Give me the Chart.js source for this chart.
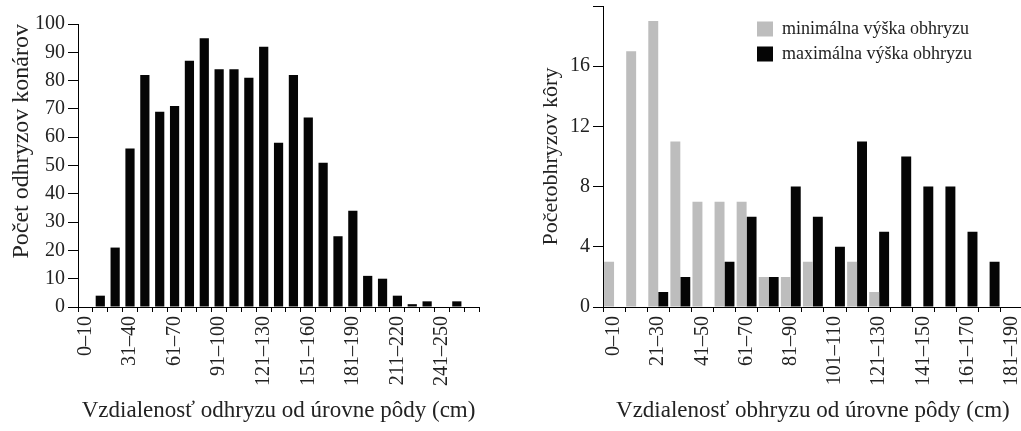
<!DOCTYPE html>
<html>
<head>
<meta charset="utf-8">
<script src="https://cdn.jsdelivr.net/npm/chart.js@4"></script>
<style>
  html, body { margin: 0; padding: 0; background: #fff; overflow: hidden; }
  body { width: 1021px; height: 431px; position: relative; }
  #left-chart { position: absolute; left: 0; top: 0; }
  #right-chart { position: absolute; left: 520px; top: 0; }
</style>
</head>
<body>
<canvas id="left-chart" width="500" height="431"></canvas>
<canvas id="right-chart" width="520" height="431"></canvas>
<script>
// left chart: branch bites by distance from ground
const leftCategories = ["0–10", "11–20", "21–30", "31–40", "41–50", "51–60", "61–70", "71–80", "81–90",
  "91–100", "101–110", "111–120", "121–130", "131–140", "141–150", "151–160", "161–170", "171–180",
  "181–190", "191–200", "201–210", "211–220", "221–230", "231–240", "241–250", "251–260", "261–270"];
const branchCounts = [0, 4, 21, 56, 82, 69, 71, 87, 95, 84, 84, 81, 92, 58, 82, 67, 51, 25, 34, 11, 10, 4, 1, 2, 0, 2, 0];

// right chart: bark bites, min and max height
const rightCategories = ["0–10", "11–20", "21–30", "31–40", "41–50", "51–60", "61–70", "71–80", "81–90",
  "91–100", "101–110", "111–120", "121–130", "131–140", "141–150", "151–160", "161–170", "171–180", "181–190"];
const minHeightCounts = [3, 17, 19, 11, 7, 7, 7, 2, 2, 3, 0, 3, 1, 0, 0, 0, 0, 0, 0];
const maxHeightCounts = [0, 0, 1, 2, 0, 3, 6, 2, 8, 6, 4, 11, 5, 10, 8, 8, 5, 3, 0];

Chart.defaults.font.family = "'Liberation Serif', 'Times New Roman', serif";
Chart.defaults.color = "#222";

const tickFont = { size: 20 };
const axisBorder = { color: "#000", width: 1 };

new Chart(document.getElementById("left-chart"), {
  type: "bar",
  data: {
    labels: leftCategories,
    datasets: [
      {
        label: "Počet odhryzov konárov",
        data: branchCounts,
        backgroundColor: "#050505",
        categoryPercentage: 1,
        barPercentage: 0.62,
      },
    ],
  },
  options: {
    responsive: false,
    animation: false,
    layout: { padding: { top: 24, right: 17, left: 0, bottom: 0 } },
    plugins: { legend: { display: false }, tooltip: { enabled: false } },
    scales: {
      x: {
        border: axisBorder,
        grid: { drawOnChartArea: false, color: "#000", tickLength: 5 },
        ticks: {
          font: tickFont,
          autoSkip: false,
          minRotation: 90,
          maxRotation: 90,
          padding: 4,
          callback: function (value, index) {
            return index % 3 === 0 ? leftCategories[index] : "";
          },
        },
        title: {
          display: true,
          text: "Vzdialenosť odhryzu od úrovne pôdy (cm)",
          font: { size: 23 },
          padding: { top: 0, bottom: 6 },
        },
        afterFit: function (scale) {
          scale.height = 124;
        },
      },
      y: {
        min: 0,
        max: 100,
        border: axisBorder,
        grid: { drawOnChartArea: false, color: "#000", tickLength: 10 },
        ticks: { font: tickFont, stepSize: 10, padding: 3 },
        title: {
          display: true,
          text: "Počet odhryzov konárov",
          align: "end",
          font: { size: 24 },
          padding: { top: 7, bottom: 0 },
        },
        afterFit: function (scale) {
          scale.width = 78;
        },
      },
    },
  },
});

const legendPlacer = {
  id: "legendPlacer",
  afterLayout: function (chart) {
    if (chart.legend) {
      chart.legend.left = 230;
      chart.legend.top = 13;
    }
  },
};

new Chart(document.getElementById("right-chart"), {
  type: "bar",
  data: {
    labels: rightCategories,
    datasets: [
      {
        label: "minimálna výška obhryzu",
        data: minHeightCounts,
        backgroundColor: "#bdbdbd",
        categoryPercentage: 0.9,
        barPercentage: 1,
      },
      {
        label: "maximálna výška obhryzu",
        data: maxHeightCounts,
        backgroundColor: "#050505",
        categoryPercentage: 0.9,
        barPercentage: 1,
      },
    ],
  },
  options: {
    responsive: false,
    animation: false,
    layout: { padding: { top: 6, right: 11, left: 0, bottom: 0 } },
    plugins: {
      legend: {
        position: "chartArea",
        align: "start",
        labels: {
          boxWidth: 16,
          boxHeight: 15,
          padding: 7,
          color: "#222",
          font: { size: 18 },
        },
      },
      tooltip: { enabled: false },
    },
    scales: {
      x: {
        border: axisBorder,
        grid: { drawOnChartArea: false, color: "#000", tickLength: 5 },
        ticks: {
          font: tickFont,
          autoSkip: false,
          minRotation: 90,
          maxRotation: 90,
          padding: 4,
          callback: function (value, index) {
            return index % 2 === 0 ? rightCategories[index] : "";
          },
        },
        title: {
          display: true,
          text: "Vzdialenosť obhryzu od úrovne pôdy (cm)",
          font: { size: 23 },
          padding: { top: 0, bottom: 6 },
        },
        afterFit: function (scale) {
          scale.height = 124;
        },
      },
      y: {
        min: 0,
        max: 20,
        border: axisBorder,
        grid: { drawOnChartArea: false, color: "#000", tickLength: 10 },
        ticks: {
          font: tickFont,
          stepSize: 4,
          padding: 3,
          callback: function (value) {
            return value === 20 ? "" : value;
          },
        },
        title: {
          display: true,
          text: "Početobhryzov kôry",
          font: { size: 22 },
          padding: { top: 18, bottom: 0 },
        },
        afterFit: function (scale) {
          scale.width = 83;
          scale.paddingTop = 0;
        },
      },
    },
  },
  plugins: [legendPlacer],
});
</script>
</body>
</html>
